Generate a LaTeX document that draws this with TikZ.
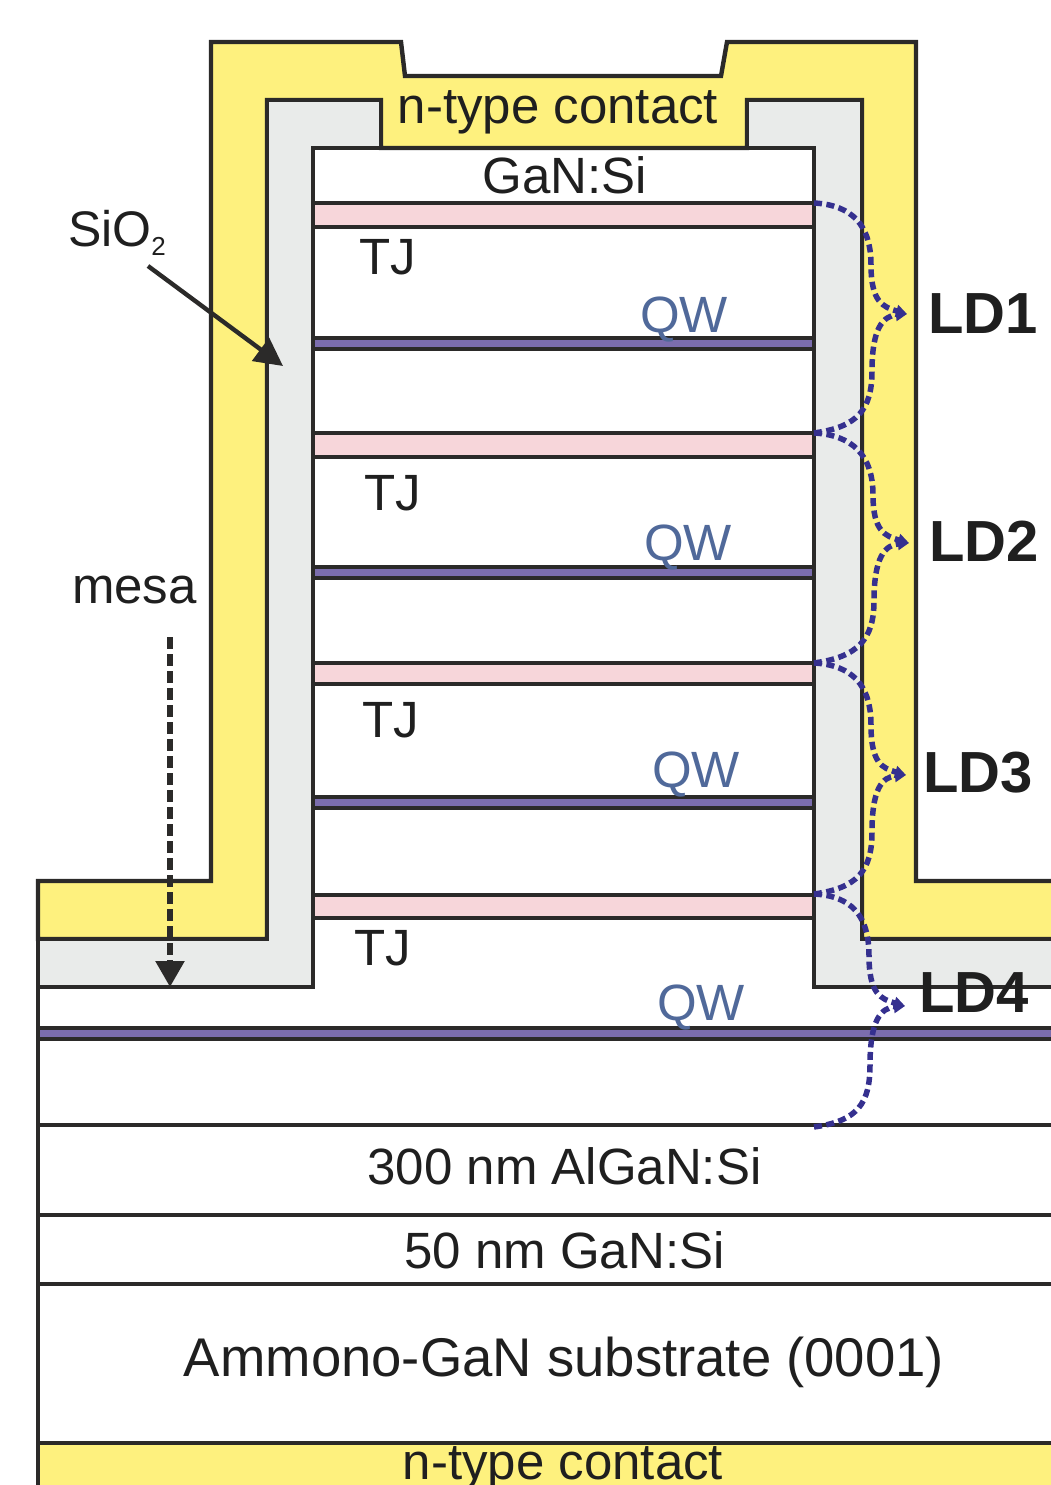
\documentclass[tikz,border=0pt]{standalone}
\usepackage{fontspec}
\setmainfont{Liberation Sans}
\usepackage{tikz}
\usetikzlibrary{arrows.meta,positioning,calc}
\definecolor{contactyellow}{HTML}{FEF17E}
\definecolor{oxidegrey}{HTML}{E9EBEA}
\definecolor{tjpink}{HTML}{F7D6DA}
\definecolor{qwviolet}{HTML}{7B6DAE}
\definecolor{qwtext}{HTML}{50699A}
\definecolor{lineblack}{HTML}{2B2A29}
\definecolor{ldblue}{HTML}{35308F}
\tikzset{
    outline/.style={draw=lineblack, line width=4.4pt, miter limit=10},
    layertext/.style={anchor=base, inner sep=0pt, text=black!88, font=\fontsize{51}{60}\selectfont},
    qwlabel/.style={layertext, text=qwtext},
    ldlabel/.style={layertext, font=\fontsize{58}{66}\selectfont\bfseries},
    ldline/.style={draw=ldblue, line width=5.5pt, dash pattern=on 8pt off 4.5pt, -{Triangle[length=11pt,width=12pt]}}
}

\begin{document}
\begin{tikzpicture}[x=1pt, y=-1pt]
    \useasboundingbox (0,0) rectangle (1051,1485);
    % Metal contact wrapped round the mesa
    \draw[outline, fill=contactyellow] (38,939) -- (38,881) -- (211,881) -- (211,42) -- (401,42) -- (405,76) -- (721,76) -- (727,42) -- (916,42) -- (916,881) -- (1060,881) -- (1060,939) -- (862,939) -- (862,100) -- (747,100) -- (747,148) -- (381,148) -- (381,100) -- (267,100) -- (267,939) -- cycle;
    % Oxide on both sides
    \draw[outline, fill=oxidegrey] (38,987) -- (38,939) -- (267,939) -- (267,100) -- (381,100) -- (381,148) -- (313,148) -- (313,987) -- cycle;
    \draw[outline, fill=oxidegrey] (1060,987) -- (814,987) -- (814,148) -- (747,148) -- (747,100) -- (862,100) -- (862,939) -- (1060,939) -- cycle;
    % Stack inside the mesa
    \draw[outline] (313,148) -- (814,148);
    \foreach \ya/\yb in {203/227, 433/457, 663/684, 895/918}
        \draw[outline, fill=tjpink] (313,\ya) rectangle (814,\yb);
    \foreach \ya/\yb in {338/349, 567/578, 797/808}
        \draw[outline, fill=qwviolet] (313,\ya) rectangle (814,\yb);
    % Layers under the mesa
    \fill[contactyellow] (38,1443) rectangle (1060,1495);
    \draw[outline, fill=qwviolet] (38,1028) rectangle (1060,1039);
    \foreach \y in {1125, 1215, 1284, 1443}
        \draw[outline] (38,\y) -- (1060,\y);
    \draw[outline] (38,881) -- (38,1495);
    % Labels
    \node[layertext] (topcontact) at (558,124) {n-type contact};
    \node[layertext] (capgan) at (565,193) {GaN:Si};
    \node[layertext] (tja) at (388,274) {TJ};
    \node[layertext] (tjb) at (393,510) {TJ};
    \node[layertext] (tjc) at (391,737) {TJ};
    \node[layertext] (tjd) at (383,965) {TJ};
    \node[qwlabel] (qwa) at (684,332) {QW};
    \node[qwlabel] (qwb) at (688,560) {QW};
    \node[qwlabel] (qwc) at (696,787) {QW};
    \node[qwlabel] (qwd) at (701,1020) {QW};
    \node[ldlabel] (lda) at (983,333) {LD1};
    \node[ldlabel] (ldb) at (984,561) {LD2};
    \node[ldlabel] (ldc) at (978,792) {LD3};
    \node[ldlabel] (ldd) at (974,1012) {LD4};
    \node[layertext, font=\fontsize{50}{60}\selectfont] (sio) at (117,246) {SiO\raisebox{-9pt}{\fontsize{26}{26}\selectfont 2}};
    \node[layertext] (mesa) at (134.500,603) {mesa};
    \node[layertext] (algan) at (564.500,1184) {300 nm AlGaN:Si};
    \node[layertext] (gansi) at (564.500,1268) {50 nm GaN:Si};
    \node[layertext, font=\fontsize{54.500}{60}\selectfont] (substrate) at (564,1376) {Ammono-GaN substrate (0001)};
    \node[layertext] (bottomcontact) at (563,1479) {n-type contact};
    % Arrows
    \coordinate (siotip) at (283,366);
    \coordinate (siostart) at (148,266);
    \coordinate (mesatip) at (170,987);
    \coordinate (mesastart) at (170,637);
    \draw[draw=lineblack, line width=4.400pt, -{Triangle[length=28pt,width=28pt]}] (siostart) -- (siotip);
    \draw[draw=lineblack, line width=5.500pt, dash pattern=on 12pt off 5pt, -{Triangle[length=26pt,width=28pt]}] (mesastart) -- (mesatip);
    % One pair of dashed curves per laser
    \foreach \xs/\xt/\ytop/\ytip/\ybot in {871/907/203/314/433, 873/909/433/543/663, 871/906/663/775/894, 869/905/894/1006/1127} {
        \draw[ldline] (814,\ytop) .. controls (852,\ytop+2) and (\xs,\ytop+22) .. (\xs,\ytop+62) .. controls (\xs,\ytip-12) and (\xt-24,\ytip-7) .. (\xt,\ytip);
        \draw[ldline] (814,\ybot) .. controls (858,\ybot-6) and (\xs+1,\ybot-24) .. (\xs+1,\ybot-62) .. controls (\xs+1,\ytip+14) and (\xt-24,\ytip+2) .. (\xt,\ytip);
    }
\end{tikzpicture}
\end{document}
